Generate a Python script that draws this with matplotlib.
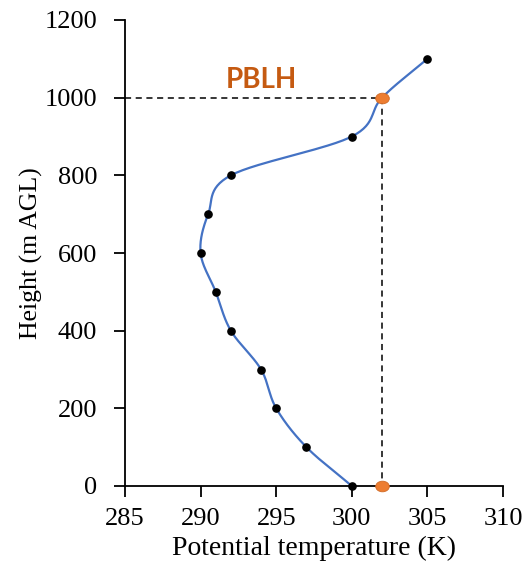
import numpy as np
import matplotlib
matplotlib.use("Agg")
import matplotlib.pyplot as plt
from matplotlib.path import Path

# Data
theta = [300, 297, 295, 294, 292, 291, 290, 290.5, 292, 300, 302, 305]
height = [0, 100, 200, 300, 400, 500, 600, 700, 800, 900, 1000, 1100]
marker_idx = [0, 1, 2, 3, 4, 5, 6, 7, 8, 9, 11]
pblh_theta = 302
pblh_height = 1000
xticks = [285, 290, 295, 300, 305, 310]
yticks = [0, 200, 400, 600, 800, 1000, 1200]


def catmull_rom(xs, ys, n=30):
    P = np.column_stack([xs, ys]).astype(float)
    P = np.vstack([2 * P[0] - P[1], P, 2 * P[-1] - P[-2]])
    out = []
    for i in range(1, len(P) - 2):
        p0, p1, p2, p3 = P[i - 1], P[i], P[i + 1], P[i + 2]
        t = np.linspace(0, 1, n, endpoint=False)[:, None]
        seg = 0.5 * ((2 * p1) + (-p0 + p2) * t + (2 * p0 - 5 * p1 + 4 * p2 - p3) * t ** 2
                     + (-p0 + 3 * p1 - 3 * p2 + p3) * t ** 3)
        out.append(seg)
    out.append(P[-2][None, :])
    out = np.vstack(out)
    return out[:, 0], out[:, 1]


fig = plt.figure(figsize=(5.29, 5.70), dpi=100)
ax = fig.add_axes([125 / 529, (570 - 486) / 570, (503 - 125) / 529, (486 - 20) / 570])

ax.set_xlim(285, 310)
ax.set_ylim(0, 1200)

# dashed guide lines
ax.plot([285, pblh_theta], [pblh_height, pblh_height], ls=(0, (4, 3)), color="black", lw=1.1, zorder=2)
ax.plot([pblh_theta, pblh_theta], [pblh_height, 0], ls=(0, (4, 3)), color="black", lw=1.1, zorder=2)

sx, sy = catmull_rom(theta, height)
ax.plot(sx, sy, color="#4472C4", lw=1.6, zorder=3, clip_on=False)

mx = [theta[i] for i in marker_idx]
my = [height[i] for i in marker_idx]
ax.plot(mx, my, "o", color="black", ms=5.2, zorder=4, clip_on=False)

circ = Path.unit_circle()
ell = Path(circ.vertices * np.array([1.0, 0.78]), circ.codes)
ax.plot([pblh_theta, pblh_theta], [pblh_height, 0], ls="none", marker=ell, ms=9.8,
        mfc="#ED7D31", mec="#D06A25", mew=0.6, zorder=5, clip_on=False)

ax.text(294.0, 1045, "PBLH", color="#C55A11", fontsize=20, fontweight="bold",
        family=["Lato", "Open Sans", "DejaVu Sans"], ha="center", va="center")

ax.set_xticks(xticks)
ax.set_yticks(yticks)
for s in ["top", "right"]:
    ax.spines[s].set_visible(False)
for s in ["left", "bottom"]:
    ax.spines[s].set_linewidth(1.3)
    ax.spines[s].set_color("black")
ax.tick_params(direction="out", length=8, width=1.3, colors="black", labelsize=19)
ax.tick_params(axis="x", pad=8)
ax.tick_params(axis="y", pad=12)
for lab in ax.get_xticklabels() + ax.get_yticklabels():
    lab.set_family("Liberation Serif")

ax.set_xlabel("Potential temperature (K)", family="Liberation Serif", fontsize=20, labelpad=4)
ax.set_ylabel("Height (m AGL)", family="Liberation Serif", fontsize=18.5, labelpad=1)

fig.savefig("out.png", dpi=100)
